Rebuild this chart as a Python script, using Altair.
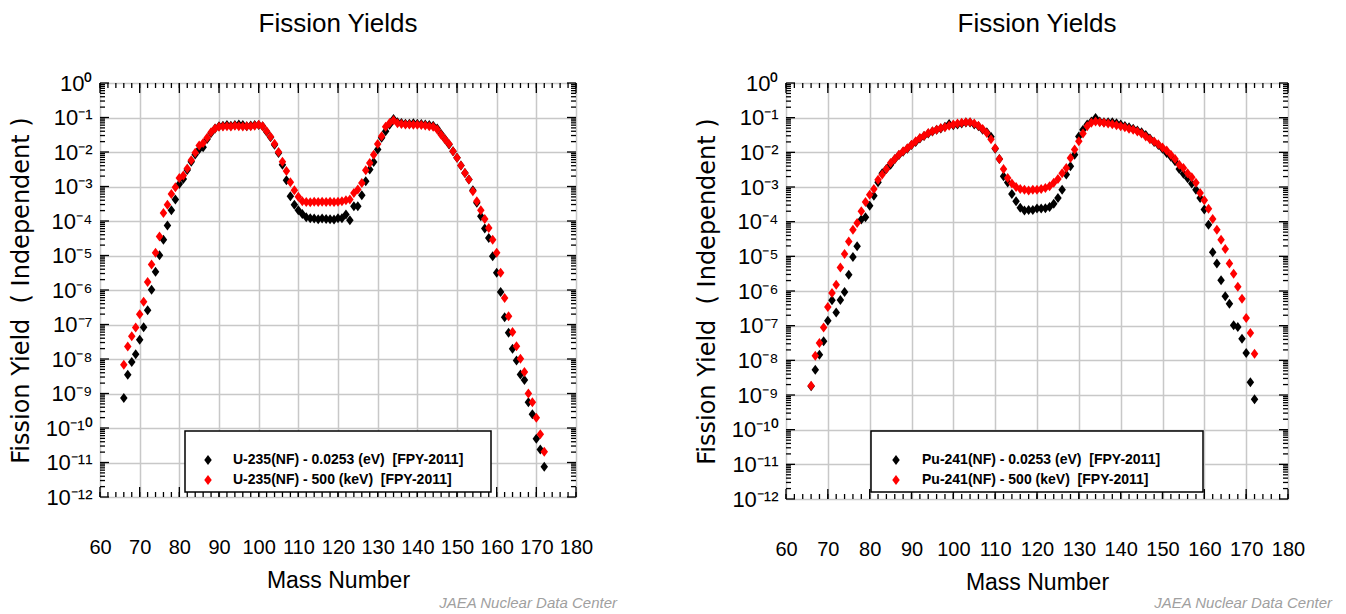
import altair as alt
import pandas as pd

# ---------------- data ----------------
mass = list(range(66, 173))

u235_thermal_log10 = [
    -9.13, -8.46, -8.09, -7.86, -7.44, -7.08, -6.59, -5.99, -5.47, -4.99,
    -4.54, -4.13, -3.69, -3.38, -2.93, -2.78, -2.52, -2.28, -2.07, -1.92,
    -1.86, -1.62, -1.45, -1.32, -1.25, -1.24, -1.22, -1.24, -1.22, -1.20,
    -1.22, -1.25, -1.23, -1.22, -1.22, -1.25, -1.41, -1.57, -1.79, -2.03,
    -2.37, -2.82, -3.28, -3.53, -3.69, -3.80, -3.89, -3.92, -3.93, -3.95,
    -3.93, -3.94, -3.95, -3.96, -3.92, -3.92, -3.81, -3.98, -3.57, -3.57,
    -3.25, -2.85, -2.51, -2.29, -1.93, -1.59, -1.40, -1.21, -1.04, -1.14,
    -1.16, -1.18, -1.18, -1.17, -1.18, -1.19, -1.20, -1.22, -1.24, -1.32,
    -1.48, -1.63, -1.78, -1.98, -2.17, -2.39, -2.61, -2.80, -3.11, -3.47,
    -3.86, -4.22, -4.49, -5.02, -5.50, -6.06, -6.79, -7.24, -7.70, -8.04,
    -8.45, -8.61, -9.25, -9.60, -10.31, -10.62, -11.12,
]

u235_500kev_log10 = [
    -8.17, -7.64, -7.34, -7.09, -6.70, -6.34, -5.77, -5.26, -4.92, -4.45,
    -3.77, -3.53, -3.22, -3.02, -2.75, -2.68, -2.48, -2.24, -2.02, -1.81,
    -1.74, -1.59, -1.43, -1.32, -1.27, -1.26, -1.25, -1.26, -1.24, -1.25,
    -1.26, -1.25, -1.25, -1.24, -1.21, -1.25, -1.40, -1.56, -1.76, -2.00,
    -2.28, -2.55, -2.88, -3.11, -3.30, -3.43, -3.45, -3.46, -3.44, -3.45,
    -3.44, -3.45, -3.44, -3.45, -3.44, -3.43, -3.40, -3.38, -3.19, -3.09,
    -2.90, -2.53, -2.32, -2.08, -1.77, -1.54, -1.27, -1.16, -1.08, -1.17,
    -1.19, -1.20, -1.20, -1.21, -1.21, -1.22, -1.23, -1.25, -1.27, -1.35,
    -1.50, -1.64, -1.77, -1.98, -2.17, -2.39, -2.61, -2.80, -3.14, -3.43,
    -3.69, -3.94, -4.20, -4.54, -4.92, -5.50, -6.23, -6.76, -7.22, -7.63,
    -7.99, -8.38, -9.00, -9.25, -9.70, -10.18, -10.69,
]

pu241_thermal_log10 = [
    -8.75, -8.27, -7.84, -7.45, -6.86, -6.27, -6.62, -6.26, -6.03, -5.53,
    -5.02, -4.71, -3.94, -3.87, -3.54, -3.25, -2.86, -2.60, -2.48, -2.36,
    -2.20, -2.08, -1.98, -1.90, -1.79, -1.70, -1.60, -1.53, -1.46, -1.40,
    -1.35, -1.31, -1.26, -1.18, -1.22, -1.20, -1.17, -1.14, -1.14, -1.20,
    -1.25, -1.35, -1.42, -1.55, -1.90, -2.19, -2.69, -2.87, -3.20, -3.41,
    -3.60, -3.68, -3.66, -3.66, -3.62, -3.62, -3.61, -3.58, -3.48, -3.32,
    -3.08, -2.64, -2.40, -2.07, -1.54, -1.35, -1.20, -1.11, -1.01, -1.11,
    -1.13, -1.13, -1.13, -1.16, -1.20, -1.24, -1.28, -1.32, -1.37, -1.42,
    -1.50, -1.60, -1.70, -1.79, -1.90, -2.02, -2.13, -2.26, -2.48, -2.62,
    -2.75, -2.90, -3.08, -3.32, -3.65, -4.09, -4.88, -5.21, -5.69, -6.15,
    -6.37, -6.99, -7.04, -7.38, -7.79, -8.63, -9.12,
]

pu241_500kev_log10 = [
    -8.73, -7.87, -7.50, -7.05, -6.46, -6.06, -5.82, -5.32, -4.93, -4.57,
    -4.23, -4.04, -3.70, -3.43, -3.22, -3.06, -2.79, -2.64, -2.48, -2.31,
    -2.19, -2.07, -1.97, -1.88, -1.78, -1.68, -1.59, -1.52, -1.44, -1.39,
    -1.35, -1.30, -1.28, -1.23, -1.20, -1.17, -1.15, -1.13, -1.13, -1.17,
    -1.23, -1.33, -1.44, -1.62, -1.88, -2.19, -2.48, -2.74, -2.90, -3.00,
    -3.06, -3.08, -3.10, -3.08, -3.08, -3.06, -3.03, -2.98, -2.88, -2.77,
    -2.60, -2.45, -2.16, -1.92, -1.68, -1.46, -1.25, -1.15, -1.11, -1.13,
    -1.15, -1.17, -1.19, -1.22, -1.25, -1.28, -1.32, -1.35, -1.40, -1.46,
    -1.54, -1.62, -1.69, -1.77, -1.86, -1.95, -2.07, -2.19, -2.36, -2.45,
    -2.60, -2.72, -2.88, -3.17, -3.38, -3.63, -3.92, -4.23, -4.52, -4.79,
    -5.21, -5.50, -5.88, -6.22, -6.78, -7.21, -7.81,
]

NBSP = "\u00a0"
u235_labels = ["U-235(NF) - 0.0253 (eV)" + NBSP + " [FPY-2011]",
               "U-235(NF) - 500 (keV)" + NBSP + " [FPY-2011]"]
pu241_labels = ["Pu-241(NF) - 0.0253 (eV)" + NBSP + " [FPY-2011]",
                "Pu-241(NF) - 500 (keV)" + NBSP + " [FPY-2011]"]
series_colors = ["#000000", "#ff0000"]

x_ticks = list(range(60, 181, 10))
x_minor_ticks = list(range(60, 181, 2))
y_decades = [10.0 ** -k for k in range(0, 13)]
y_minor_ticks = [m * 10.0 ** -k for k in range(1, 13) for m in range(2, 10)]
y_tick_labels = ["10⁰", "10⁻¹", "10⁻²", "10⁻³", "10⁻⁴", "10⁻⁵", "10⁻⁶",
                 "10⁻⁷", "10⁻⁸", "10⁻⁹", "10⁻¹⁰", "10⁻¹¹", "10⁻¹²"]

chart_title = "Fission Yields"
x_title = "Mass Number"
y_title = "Fission Yield" + NBSP + " (" + NBSP + "Independent" + NBSP + ")"
credit = "JAEA Nuclear Data Center"

# ---------------- styling ----------------
FONT = "Liberation Sans, Arial, sans-serif"
DIAMOND = "M0,-1L0.75,0L0,1L-0.75,0Z"
GRID = "#c8c8c8"

label_expr = "[" + ",".join("'%s'" % s for s in y_tick_labels) + "][round(-log(datum.value)/LN10)]"


def panel(thermal, fast, labels, W, H, box_right, sym_x, txt_x, credit_x):
    df = pd.DataFrame({
        "mass": mass + mass,
        "yield": [10 ** v for v in thermal] + [10 ** v for v in fast],
        "series": [labels[0]] * len(mass) + [labels[1]] * len(mass),
    })

    xs = alt.Scale(domain=[60, 180], nice=False, zero=False)
    ys = alt.Scale(type="log", domain=[1e-12, 1], nice=False)

    points = alt.Chart(df).mark_point(
        filled=True, shape=DIAMOND, size=100, opacity=1
    ).encode(
        x=alt.X("mass:Q", scale=xs, axis=alt.Axis(
            values=x_ticks, title=x_title, grid=True, gridColor=GRID, gridWidth=1.5,
            ticks=False, domain=False, labelFont=FONT, labelFontSize=20,
            labelPadding=40, labelColor="black", labelOverlap=False, labelFlush=False,
            labelSeparation=0,
            titleFont=FONT, titleFontSize=23, titleFontWeight="normal",
            titleColor="black", titlePadding=12)),
        y=alt.Y("yield:Q", scale=ys, axis=alt.Axis(
            values=y_decades, labelExpr=label_expr, title=y_title, grid=True,
            gridColor=GRID, gridWidth=1.5, ticks=False, domain=False,
            labelFont=FONT, labelFontSize=22, labelPadding=8, labelColor="black",
            labelFlush=False, labelOverlap=False,
            titleFont="DejaVu Sans, Verdana, sans-serif", titleFontSize=24,
            titleFontWeight="normal",
            titleColor="black", titleAngle=270, titleX=-79, titleY=H / 2,
            titleAlign="center", titleBaseline="middle")),
        color=alt.Color("series:N", scale=alt.Scale(domain=labels, range=series_colors),
                        legend=None),
    )

    xmaj = pd.DataFrame({"mass": x_ticks})
    xmin = pd.DataFrame({"mass": x_minor_ticks})
    ymaj = pd.DataFrame({"yield": y_decades})
    ymin = pd.DataFrame({"yield": y_minor_ticks})

    def xrule(d, y0, y1):
        return alt.Chart(d).mark_rule(color="black", strokeWidth=1.3).encode(
            x=alt.X("mass:Q", axis=None), y=alt.value(y0), y2=alt.value(y1))

    def yrule(d, x0, x1):
        return alt.Chart(d).mark_rule(color="black", strokeWidth=1.3).encode(
            y=alt.Y("yield:Q", axis=None), x=alt.value(x0), x2=alt.value(x1))

    ticks = [
        xrule(xmaj, H, H - 10), xrule(xmin, H, H - 5),
        xrule(xmaj, 0, 10), xrule(xmin, 0, 5),
        yrule(ymaj, 0, 9), yrule(ymin, 0, 5),
        yrule(ymaj, W, W - 9), yrule(ymin, W, W - 5),
    ]

    one = pd.DataFrame({"k": [0]})
    box = alt.Chart(one).mark_rect(fill="white", stroke="black", strokeWidth=1.5).encode(
        x=alt.value(85), x2=alt.value(box_right), y=alt.value(348), y2=alt.value(409))
    leg = []
    for i, (lab, col) in enumerate(zip(labels, series_colors)):
        yy = 377 + 20 * i
        leg.append(alt.Chart(one).mark_point(filled=True, shape=DIAMOND, size=100,
                                             color=col, opacity=1).encode(
            x=alt.value(sym_x), y=alt.value(yy)))
        leg.append(alt.Chart(one).mark_text(
            text=lab, align="left", baseline="middle", font=FONT, fontSize=14,
            fontWeight="bold", color="black").encode(x=alt.value(txt_x), y=alt.value(yy)))

    cred = alt.Chart(one).mark_text(
        text=credit, align="right", baseline="alphabetic", font=FONT, fontSize=15,
        fontStyle="italic", color="#a0a0a0").encode(x=alt.value(credit_x), y=alt.value(525))

    return alt.layer(points, *ticks, box, *leg, cred).resolve_axis(
        x="independent", y="independent"
    ).properties(
        width=W, height=H,
        title=alt.TitleParams(chart_title, font=FONT, fontSize=26, fontWeight="normal",
                              color="black", anchor="middle", frame="group", offset=35),
    )


left = panel(u235_thermal_log10, u235_500kev_log10, u235_labels, 476, 414, 391, 108, 133, 517)
right = panel(pu241_thermal_log10, pu241_500kev_log10, pu241_labels, 502, 416, 417, 110, 136, 546)

chart = alt.hconcat(left, right, spacing=76).properties(
    padding={"left": 0, "top": 2, "right": 0, "bottom": 0}
).configure_view(
    stroke="black", strokeWidth=2
).configure_axis(
    labelOverlap=False
).configure(background="white")

chart.save("out.html", embed_options={"renderer": "svg", "actions": False})
